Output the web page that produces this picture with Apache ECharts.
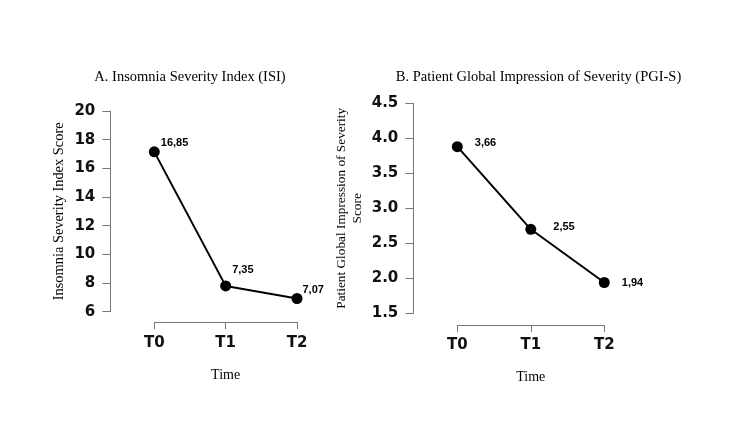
<!DOCTYPE html>
<html>
<head>
<meta charset="utf-8">
<script src="https://cdn.jsdelivr.net/npm/echarts@6/dist/echarts.min.js"></script>
<style>
  html, body { margin: 0; padding: 0; background: #fff; }
  #chart { width: 750px; height: 424px; }
</style>
</head>
<body>
<div id="chart"></div>
<script>
// time points shared by both panels
const timePoints = ['T0', 'T1', 'T2'];

// A. ISI - plotted positions and printed labels
const isiValues = [17.15, 7.8, 6.92];
const isiLabels = ['16,85', '7,35', '7,07'];
const isiTicks = [6, 20, 2]; // min, max, step

// B. PGI-S - plotted positions and printed labels
const pgiValues = [3.88, 2.7, 1.94];
const pgiLabels = ['3,66', '2,55', '1,94'];
const pgiTicks = [1.5, 4.5, 0.5];

const chart = echarts.init(document.getElementById('chart'));

const serif = 'Liberation Serif, Times New Roman, serif';
const sans = 'DejaVu Sans, Verdana, sans-serif';

// label offsets for each point (per panel)
const isiOffsets = [[-4, -9], [-4, -16], [-5, -9]];
const pgiOffsets = [[7, -4], [12, -2], [7, 0]];

function makePoints(values, labels, offsets) {
    return values.map((v, i) => ({
        value: v,
        label: { formatter: labels[i], offset: offsets[i] }
    }));
}

function xAxisFor(gridIndex, offset, nameGap) {
    return {
        type: 'category',
        gridIndex: gridIndex,
        data: timePoints,
        boundaryGap: false,
        offset: offset,
        name: 'Time',
        nameLocation: 'middle',
        nameGap: nameGap,
        nameTextStyle: { fontFamily: serif, fontSize: 14, color: '#000' },
        axisLine: { lineStyle: { color: '#777', width: 1 } },
        axisTick: { alignWithLabel: true, length: 7, lineStyle: { color: '#777' } },
        axisLabel: { margin: 13, fontFamily: sans, fontSize: 15, fontWeight: 'bold', color: '#111' },
        splitLine: { show: false }
    };
}

function yAxisFor(gridIndex, ticks, name, nameGap, nameSize, digits) {
    return {
        type: 'value',
        gridIndex: gridIndex,
        min: ticks[0],
        max: ticks[1],
        interval: ticks[2],
        offset: 44,
        name: name,
        nameLocation: 'middle',
        nameGap: nameGap,
        nameTextStyle: { fontFamily: serif, fontSize: nameSize, color: '#000', lineHeight: 16 },
        axisLine: { show: true, lineStyle: { color: '#777', width: 1 } },
        axisTick: { show: true, length: 8, lineStyle: { color: '#777' } },
        axisLabel: {
            margin: 15, fontFamily: sans, fontSize: 15, fontWeight: 'bold', color: '#111',
            formatter: v => v.toFixed(digits)
        },
        splitLine: { show: false }
    };
}

function seriesFor(index, values, labels, offsets) {
    return {
        type: 'line',
        xAxisIndex: index,
        yAxisIndex: index,
        data: makePoints(values, labels, offsets),
        symbol: 'circle',
        symbolSize: 11,
        lineStyle: { color: '#000', width: 2 },
        itemStyle: { color: '#000' },
        label: {
            show: true,
            position: 'right',
            fontFamily: 'Liberation Sans, Arial, sans-serif',
            fontWeight: 'bold',
            fontSize: 11,
            color: '#000'
        },
        animation: false
    };
}

const option = {
    backgroundColor: '#fff',
    title: [
        {
            text: 'A. Insomnia Severity Index (ISI)',
            left: 185, top: 65, textAlign: 'center',
            textStyle: { fontFamily: serif, fontSize: 14.5, fontWeight: 'normal', color: '#000' }
        },
        {
            text: 'B. Patient Global Impression of Severity (PGI-S)',
            left: 533.5, top: 65, textAlign: 'center',
            textStyle: { fontFamily: serif, fontSize: 14.5, fontWeight: 'normal', color: '#000' }
        }
    ],
    grid: [
        { left: 154.3, top: 111, width: 142.7, height: 200.7 },
        { left: 457.3, top: 103.3, width: 147, height: 210 }
    ],
    xAxis: [xAxisFor(0, 10.5, 46), xAxisFor(1, 11.7, 45)],
    yAxis: [
        yAxisFor(0, isiTicks, 'Insomnia Severity Index Score', 43, 14.4, 0),
        yAxisFor(1, pgiTicks, 'Patient Global Impression of Severity\nScore', 47.5, 13.3, 1)
    ],
    series: [
        seriesFor(0, isiValues, isiLabels, isiOffsets),
        seriesFor(1, pgiValues, pgiLabels, pgiOffsets)
    ]
};

chart.setOption(option);
</script>
</body>
</html>
